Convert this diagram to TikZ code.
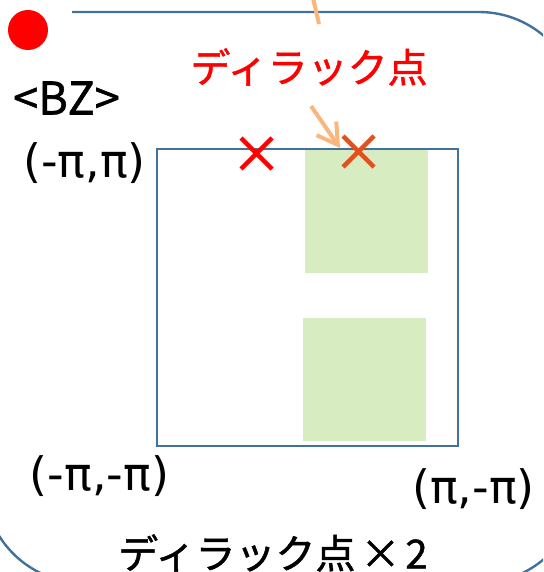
\documentclass[tikz,border=0pt]{standalone}
\usepackage{fontspec}
\newfontfamily\jpfont[FakeBold=1.2]{Noto Sans CJK JP}
\newfontfamily\dvfont{DejaVu Sans}
\usetikzlibrary{arrows.meta}
\definecolor{frameblue}{RGB}{65,113,156}
\definecolor{zonegreen}{RGB}{216,236,194}
\definecolor{arroworange}{RGB}{250,182,125}
\definecolor{crossred}{RGB}{255,0,0}
\definecolor{crossdark}{RGB}{226,80,30}
\begin{document}
\begin{tikzpicture}[x=1pt,y=-1pt,
  bigframe/.style={draw=frameblue,line width=2.4pt},
  bzbox/.style={draw=frameblue,line width=2.4pt},
  zone/.style={fill=zonegreen,draw=none},
  crossmark/.style={line width=4.5pt},
  pointer/.style={draw=arroworange,line width=4pt,-{Straight Barb[length=20pt,width=24pt]}},
  txt/.style={inner sep=0pt,anchor=center},
  coordtxt/.style={txt,font=\dvfont\fontsize{46}{48}\selectfont},
  bztxt/.style={txt,font=\jpfont\fontsize{45}{47}\selectfont},
  jptxt/.style={txt,font=\jpfont\fontsize{40}{42}\selectfont}]
\useasboundingbox (0,0) rectangle (543,572);
\begin{scope}
\clip (0,0) rectangle (543,572);
% outer rounded frame (partly outside the picture)
\draw[bigframe] (72,12) -- (479,12) arc[start angle=-90,end angle=0,radius=100]
  -- (579,483) arc[start angle=0,end angle=90,radius=100]
  -- (84,583) arc[start angle=90,end angle=180,radius=100] -- (-16,112);
% green zones
\fill[zone] (305,150) rectangle (428,273);
\fill[zone] (303,318) rectangle (426,441);
% Brillouin zone square
\draw[bzbox] (157,149) rectangle (458,446);
% Dirac points
\coordinate (dirac1) at (256.5,153.5);
\coordinate (dirac2) at (358.5,151.5);
\draw[crossmark,crossred] ([shift={(-15.5,-15.5)}]dirac1) -- ([shift={(15.5,15.5)}]dirac1)
  ([shift={(-15.5,15.5)}]dirac1) -- ([shift={(15.5,-15.5)}]dirac1);
\draw[crossmark,crossdark] ([shift={(-15.5,-15.5)}]dirac2) -- ([shift={(15.5,15.5)}]dirac2)
  ([shift={(-15.5,15.5)}]dirac2) -- ([shift={(15.5,-15.5)}]dirac2);
% bullet
\fill[crossred] (28,30) circle[radius=20];
% texts
\node[jptxt,text=crossred] (diractitle) at (309,67) {ディラック点};
\node[bztxt] (bz) at (66.5,98) {<BZ>};
\node[coordtxt] (cornerTL) at (84.5,163) {(-π,π)};
\node[coordtxt] (cornerBL) at (99.5,476) {(-π,-π)};
\node[coordtxt] (cornerBR) at (473.5,489) {(π,-π)};
\node[jptxt] (diraccount) at (273,553) {ディラック点\hspace{5pt}×\hspace{5pt}2};
% orange arrows
\coordinate (arrowfrom) at (311,106);
\coordinate (arrowtip) at (340,148);
\draw[pointer] (arrowfrom) -- (arrowtip);
\coordinate (upperfrom) at (313,-2);
\coordinate (upperto) at (319,24);
\draw[draw=arroworange,line width=4pt] (upperfrom) -- (upperto);
\end{scope}
\end{tikzpicture}
\end{document}
